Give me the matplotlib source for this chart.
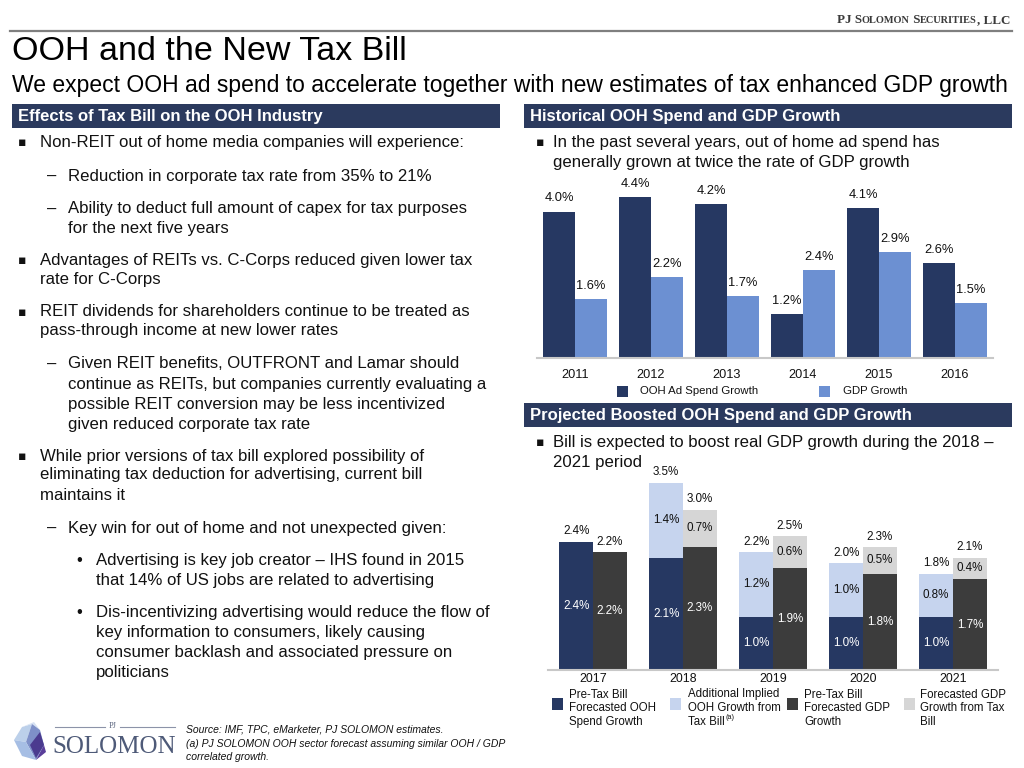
import matplotlib
matplotlib.use("Agg")
import matplotlib.pyplot as plt
import numpy as np
from matplotlib.patches import Rectangle, Polygon
from matplotlib.lines import Line2D

plt.rcParams['font.family'] = ['Liberation Sans', 'DejaVu Sans']

# ---------------- data ----------------
hist_years = ['2011', '2012', '2013', '2014', '2015', '2016']
hist_ooh = [4.0, 4.4, 4.2, 1.2, 4.1, 2.6]
hist_gdp = [1.6, 2.2, 1.7, 2.4, 2.9, 1.5]
hist_series = ['OOH Ad Spend Growth', 'GDP Growth']

proj_years = ['2017', '2018', '2019', '2020', '2021']
pre_ooh = [2.4, 2.1, 1.0, 1.0, 1.0]
add_ooh = [0.0, 1.4, 1.2, 1.0, 0.8]
pre_gdp = [2.2, 2.3, 1.9, 1.8, 1.7]
add_gdp = [0.0, 0.7, 0.6, 0.5, 0.4]
proj_series = [['Pre-Tax Bill', 'Forecasted OOH', 'Spend Growth'],
               ['Additional Implied', 'OOH Growth from', 'Tax Bill'],
               ['Pre-Tax Bill', 'Forecasted GDP', 'Growth'],
               ['Forecasted GDP', 'Growth from Tax', 'Bill']]
proj_notes = [None, '(a)', None, None]

# (level, text, y); level: 0 square bullet, 1 dash, 2 dot; 'cN' = continuation of level N
left_lines = [
    (0, "Non-REIT out of home media companies will experience:", 143),
    (1, "Reduction in corporate tax rate from 35% to 21%", 176),
    (1, "Ability to deduct full amount of capex for tax purposes", 209),
    ('c1', "for the next five years", 228),
    (0, "Advantages of REITs vs. C-Corps reduced given lower tax", 261),
    ('c0', "rate for C-Corps", 280),
    (0, "REIT dividends for shareholders continue to be treated as", 312),
    ('c0', "pass-through income at new lower rates", 331),
    (1, "Given REIT benefits, OUTFRONT and Lamar should", 364),
    ('c1', "continue as REITs, but companies currently evaluating a", 384),
    ('c1', "possible REIT conversion may be less incentivized", 404),
    ('c1', "given reduced corporate tax rate", 424),
    (0, "While prior versions of tax bill explored possibility of", 456),
    ('c0', "eliminating tax deduction for advertising, current bill", 475),
    ('c0', "maintains it", 495),
    (1, "Key win for out of home and not unexpected given:", 528),
    (2, "Advertising is key job creator \u2013 IHS found in 2015", 561),
    ('c2', "that 14% of US jobs are related to advertising", 580),
    (2, "Dis-incentivizing advertising would reduce the flow of", 613),
    ('c2', "key information to consumers, likely causing", 633),
    ('c2', "consumer backlash and associated pressure on", 653),
    ('c2', "politicians", 673),
]

# ---------------- colours ----------------
NAVY = '#2B3A5E'
NAVY_BAR = '#263862'
LBLUE = '#6C90D2'
PALE = '#C6D4EE'
DGRAY = '#3C3C3C'
LGRAY = '#D6D6D6'
TXT = '#111111'

W, H = 1024, 768
fig = plt.figure(figsize=(W / 100, H / 100), dpi=100)
fig.patch.set_facecolor('white')
renderer = fig.canvas.get_renderer()


def fx(x):
    return x / W


def fy(y):
    return 1 - y / H


def T(x, y, s, **kw):
    kw.setdefault('va', 'center')
    kw.setdefault('ha', 'left')
    kw.setdefault('color', TXT)
    return fig.text(fx(x), fy(y), s, **kw)


def rect(x0, y0, x1, y1, color):
    fig.patches.append(Rectangle((fx(x0), fy(y1)), fx(x1) - fx(x0), fy(y0) - fy(y1),
                                 transform=fig.transFigure, facecolor=color,
                                 edgecolor='none', zorder=0))


# ---------------- top banner ----------------
fig.add_artist(Line2D([fx(10), fx(1012)], [fy(31), fy(31)], color='#7F7F7F', lw=1.6,
                      transform=fig.transFigure))

pieces = [("PJ S", 9.4), ("OLOMON", 7.4), (" S", 9.4), ("ECURITIES", 7.4), (", LLC", 9.4)]
texts = []
total_w = 0
for s, sz in pieces:
    t = fig.text(0, fy(23), s, fontsize=sz, family='Liberation Serif', weight='bold',
                 color='#3A3A3A', va='baseline', ha='left')
    bb = t.get_window_extent(renderer)
    texts.append((t, bb.width))
    total_w += bb.width
xcur = 1010 - total_w
for t, w in texts:
    t.set_x(fx(xcur))
    xcur += w

T(12, 51, "OOH and the New Tax Bill", fontsize=24.5, color='black')
T(12, 85.5, "We expect OOH ad spend to accelerate together with new estimates of tax enhanced GDP growth",
  fontsize=16.5, color='black')

# ---------------- section headers ----------------
rect(12, 104, 500, 128, NAVY)
T(18, 116.5, "Effects of Tax Bill on the OOH Industry", fontsize=12, weight='bold', color='white')
rect(524, 104, 1012, 128, NAVY)
T(530, 116.5, "Historical OOH Spend and GDP Growth", fontsize=12, weight='bold', color='white')
rect(524, 403, 1012, 427, NAVY)
T(530, 415.5, "Projected Boosted OOH Spend and GDP Growth", fontsize=12, weight='bold', color='white')

# ---------------- left bullet text ----------------
markers = {0: ("\u25AA", 18, 40), 1: ("\u2013", 47, 68), 2: ("\u2022", 76, 96)}
for lvl, s, y in left_lines:
    if isinstance(lvl, str):
        T(markers[int(lvl[1])][2], y, s, fontsize=12.1)
    else:
        m, mx, tx = markers[lvl]
        if lvl == 0:
            T(mx, y, m, fontsize=9, family=['DejaVu Sans'])
        else:
            T(mx, y, m, fontsize=12.1)
        T(tx, y, s, fontsize=12.1)

# right bullets
T(536, 143, "\u25AA", fontsize=9, family=['DejaVu Sans'])
T(553, 143, "In the past several years, out of home ad spend has", fontsize=12.1)
T(553, 163, "generally grown at twice the rate of GDP growth", fontsize=12.1)
T(536, 442, "\u25AA", fontsize=9, family=['DejaVu Sans'])
T(553, 442, "Bill is expected to boost real GDP growth during the 2018 \u2013", fontsize=12.1)
T(553, 462, "2021 period", fontsize=12.1)

# ---------------- chart 1: historical ----------------
ax1 = fig.add_axes([fx(537), fy(358), fx(993) - fx(537), fy(175) - fy(358)])
x = np.arange(len(hist_years))
bw = 0.42
b1 = ax1.bar(x - bw, hist_ooh, bw, align='edge', color=NAVY_BAR)
b2 = ax1.bar(x, hist_gdp, bw, align='edge', color=LBLUE)
for bars, vals in ((b1, hist_ooh), (b2, hist_gdp)):
    for r, v in zip(bars, vals):
        ax1.annotate(f"{v:.1f}%", (r.get_x() + r.get_width() / 2, v), xytext=(0, 9.5),
                     textcoords='offset points', ha='center', va='center', fontsize=9.3, color=TXT)
ax1.set_xlim(-0.5, len(hist_years) - 0.5)
ax1.set_ylim(0, 5.0)
ax1.set_yticks([])
ax1.set_xticks(x)
ax1.set_xticklabels(hist_years, fontsize=9.2, color=TXT)
ax1.tick_params(axis='x', length=0, pad=8)
for s in ('top', 'right', 'left'):
    ax1.spines[s].set_visible(False)
ax1.spines['bottom'].set_color('#C8C8C8')
ax1.spines['bottom'].set_linewidth(1.5)
ax1.patch.set_alpha(0)

for (lx, tx), lab, col in zip([(617, 640), (819, 843)], hist_series, [NAVY_BAR, LBLUE]):
    rect(lx, 386, lx + 11, 397, col)
    T(tx, 391.5, lab, fontsize=8.2)

# ---------------- chart 2: projected ----------------
ax2 = fig.add_axes([fx(548), fy(670), fx(998) - fx(548), fy(456) - fy(670)])
x2 = np.arange(len(proj_years))
bw2 = 0.375
p1 = ax2.bar(x2 - bw2, pre_ooh, bw2, align='edge', color=NAVY_BAR)
p2 = ax2.bar(x2 - bw2, add_ooh, bw2, bottom=pre_ooh, align='edge', color=PALE)
p3 = ax2.bar(x2, pre_gdp, bw2, align='edge', color=DGRAY)
p4 = ax2.bar(x2, add_gdp, bw2, bottom=pre_gdp, align='edge', color=LGRAY)
tot_ooh = [a + b for a, b in zip(pre_ooh, add_ooh)]
tot_gdp = [a + b for a, b in zip(pre_gdp, add_gdp)]
zeros = [0] * len(proj_years)
for bars, vals, bots, col in ((p1, pre_ooh, zeros, 'white'), (p2, add_ooh, pre_ooh, TXT),
                              (p3, pre_gdp, zeros, 'white'), (p4, add_gdp, pre_gdp, TXT)):
    for r, v, b in zip(bars, vals, bots):
        if v > 0:
            ax2.text(r.get_x() + r.get_width() / 2, b + v / 2, f"{v:.1f}%", ha='center',
                     va='center', fontsize=8.4, color=col)
for bars, vals in ((p1, tot_ooh), (p3, tot_gdp)):
    for r, v in zip(bars, vals):
        ax2.annotate(f"{v:.1f}%", (r.get_x() + r.get_width() / 2, v), xytext=(0, 7.5),
                     textcoords='offset points', ha='center', va='center', fontsize=8.4, color=TXT)
ax2.set_xlim(-0.5, len(proj_years) - 0.5)
ax2.set_ylim(0, 4.0)
ax2.set_yticks([])
ax2.set_xticks(x2)
ax2.set_xticklabels(proj_years, fontsize=8.9, color=TXT)
ax2.tick_params(axis='x', length=0, pad=2)
for s in ('top', 'right', 'left'):
    ax2.spines[s].set_visible(False)
ax2.spines['bottom'].set_color('#C8C8C8')
ax2.spines['bottom'].set_linewidth(1.5)
ax2.patch.set_alpha(0)

for (lx, tx), lines, note, col in zip([(552, 569), (670, 688), (787, 804), (904, 920)],
                                      proj_series, proj_notes, [NAVY_BAR, PALE, DGRAY, LGRAY]):
    rect(lx, 698, lx + 11, 710, col)
    for i, ln in enumerate(lines):
        t = T(tx, 694.5 + 13.8 * i, ln, fontsize=8.3)
        if note and i == len(lines) - 1:
            w = t.get_window_extent(renderer).width
            T(tx + w + 1, 717.5, note, fontsize=5.3)

# ---------------- footer ----------------
logo_polys = [
    ([(14, 740), (22, 727), (32, 724), (26, 742)], '#BCD0EA'),
    ([(22, 727), (34, 722), (40, 730), (32, 724)], '#D7E2F3'),
    ([(26, 742), (32, 724), (40, 730), (44, 745), (36, 760)], '#7E90C8'),
    ([(14, 740), (26, 742), (36, 760), (22, 756)], '#A6BEE4'),
    ([(36, 760), (44, 745), (46, 752)], '#5A3E9A'),
    ([(30, 745), (40, 732), (44, 745), (36, 758)], '#4B3B8F'),
]
for pts, col in logo_polys:
    fig.patches.append(Polygon([(fx(a), fy(b)) for a, b in pts], closed=True,
                               transform=fig.transFigure, facecolor=col, edgecolor='none'))
fig.add_artist(Line2D([fx(55), fx(105)], [fy(727), fy(727)], color='#8C93A8', lw=0.8,
                      transform=fig.transFigure))
fig.add_artist(Line2D([fx(120), fx(175)], [fy(727), fy(727)], color='#8C93A8', lw=0.8,
                      transform=fig.transFigure))
T(112.5, 726, "PJ", fontsize=6, family='Liberation Serif', color='#5C6680', ha='center')
T(114, 747, "SOLOMON", fontsize=18, family='Liberation Serif', color='#4E5A78', ha='center')

T(186, 729.5, "Source: IMF, TPC, eMarketer, PJ SOLOMON estimates.", fontsize=7.5, style='italic')
T(186, 744, "(a) PJ SOLOMON OOH sector forecast assuming similar OOH / GDP", fontsize=7.5,
  style='italic')
T(186, 757, "correlated growth.", fontsize=7.5, style='italic')

fig.savefig('out.png', dpi=100)
